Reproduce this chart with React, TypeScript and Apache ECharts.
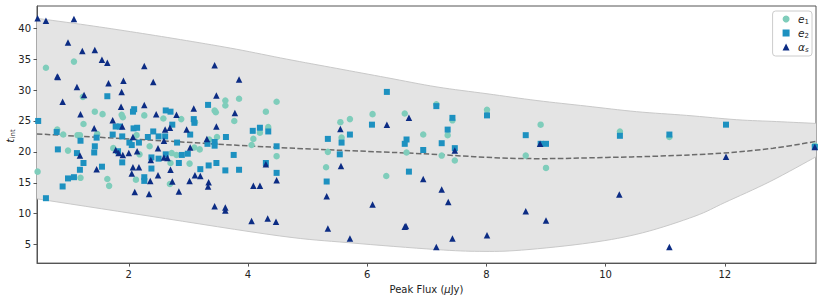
import React, { useEffect, useRef } from "react";
import * as echarts from "echarts";

// ---------- data ----------
const xTicks = [2, 4, 6, 8, 10, 12];
const yTicks = [5, 10, 15, 20, 25, 30, 35, 40];

const e1Points: [number, number][] = [
  [1.08, 34.6], [0.61, 33.6], [1.23, 28.9], [1.43, 26.5], [1.56, 26.1], [1.24, 24.5],
  [0.8, 23.6], [0.9, 22.8], [1.14, 22.7], [1.18, 22.7], [1.47, 22.9], [0.98, 20.2],
  [0.47, 16.8], [1.19, 15.8], [1.88, 26.0], [1.9, 25.6], [2.26, 25.9], [2.58, 25.4],
  [2.13, 22.7], [2.35, 20.9], [1.74, 20.6], [2.18, 19.6], [2.12, 15.5], [1.64, 15.6],
  [1.67, 14.5], [3.62, 28.3], [3.62, 27.5], [3.44, 26.7], [3.46, 26.4], [2.88, 25.3],
  [3.11, 24.8], [3.77, 25.0], [3.48, 22.4], [3.19, 20.4], [3.35, 22.0], [3.1, 20.7],
  [2.72, 19.8], [2.8, 19.5], [2.7, 18.2], [3.02, 18.1], [2.69, 14.8], [3.85, 28.6],
  [4.48, 28.1], [4.3, 26.5], [4.34, 24.0], [4.2, 23.1], [4.09, 22.1], [4.06, 21.1],
  [4.48, 19.3], [5.55, 24.8], [5.71, 25.3], [6.09, 26.1], [6.63, 26.2], [6.94, 22.8],
  [7.35, 22.7], [7.16, 27.7], [7.43, 25.1], [8.01, 26.8], [8.91, 24.4], [5.57, 22.3],
  [5.34, 20.0], [5.31, 17.5], [6.32, 16.1], [6.66, 19.9], [7.25, 19.4], [7.47, 18.6],
  [8.66, 19.4], [9.0, 17.4], [10.24, 23.3], [11.07, 22.4], [13.51, 21.0],
];

const e2Points: [number, number][] = [
  [0.48, 25.0], [1.64, 29.0], [0.79, 23.2], [1.46, 22.3], [1.19, 21.8], [1.43, 20.9],
  [1.42, 19.9], [0.81, 20.4], [1.13, 19.8], [1.24, 18.2], [1.18, 17.1], [1.55, 17.6],
  [1.08, 15.9], [0.98, 15.7], [0.89, 14.4], [0.61, 12.5], [2.09, 26.9], [2.07, 26.5],
  [2.62, 26.7], [1.78, 24.1], [1.85, 24.1], [2.08, 23.8], [2.14, 23.9], [1.73, 22.8],
  [1.89, 22.5], [2.41, 23.3], [2.5, 22.5], [2.61, 22.5], [2.32, 22.4], [2.01, 21.5],
  [2.05, 21.1], [2.17, 21.5], [1.82, 20.1], [1.89, 18.3], [2.38, 19.1], [2.5, 18.9],
  [2.62, 19.6], [2.38, 17.3], [2.26, 15.9], [2.26, 15.3], [2.7, 26.5], [3.33, 27.6],
  [3.09, 25.3], [3.1, 24.7], [2.73, 24.4], [3.03, 22.8], [2.81, 21.5], [3.32, 21.3],
  [3.44, 21.6], [3.44, 21.0], [3.63, 22.4], [2.89, 19.5], [2.99, 19.7], [2.84, 18.2],
  [3.2, 17.2], [3.34, 17.8], [3.47, 18.2], [3.62, 17.0], [3.76, 19.5], [4.08, 23.4],
  [4.2, 23.9], [4.34, 23.3], [4.48, 20.9], [4.3, 18.2], [3.85, 17.1], [4.48, 16.6],
  [6.33, 29.7], [6.08, 24.4], [7.16, 27.4], [7.43, 25.5], [7.35, 23.6], [8.01, 25.9],
  [5.71, 22.8], [5.57, 21.5], [5.34, 22.1], [6.66, 22.0], [6.63, 21.3], [6.94, 20.3],
  [7.25, 21.4], [7.47, 20.6], [8.66, 22.7], [9.0, 21.3], [5.54, 19.6], [5.32, 15.2],
  [6.7, 16.8], [10.24, 22.6], [11.07, 22.8], [12.02, 24.4], [13.51, 20.8], [8.91, 21.3],
];

const alphaPoints: [number, number][] = [
  [0.47, 41.6], [0.61, 41.2], [1.08, 41.5], [0.98, 37.7], [1.22, 36.3], [1.43, 36.5],
  [1.55, 34.9], [1.64, 34.4], [0.8, 32.2], [0.81, 32.1], [2.26, 33.9], [1.13, 30.5],
  [1.25, 29.2], [1.66, 31.1], [1.91, 31.5], [2.41, 31.3], [3.44, 34.0], [3.85, 31.7],
  [0.89, 28.1], [1.19, 26.1], [1.42, 23.8], [1.18, 19.4], [1.46, 17.2], [1.88, 29.7],
  [1.87, 27.3], [2.26, 27.6], [2.46, 26.1], [1.73, 25.1], [1.89, 24.1], [2.61, 23.6],
  [2.07, 22.4], [2.59, 21.8], [2.49, 20.6], [1.78, 20.3], [1.83, 19.8], [1.9, 19.5],
  [2.0, 19.8], [2.14, 20.1], [2.59, 19.1], [2.65, 19.0], [2.37, 18.7], [2.07, 17.5],
  [2.17, 17.5], [2.05, 16.5], [2.49, 16.2], [2.36, 15.3], [2.1, 13.5], [2.34, 13.2],
  [3.47, 29.1], [3.09, 27.0], [2.8, 26.0], [2.69, 23.9], [3.47, 24.1], [2.97, 23.6],
  [3.31, 22.1], [3.03, 20.7], [2.7, 17.1], [3.11, 16.2], [3.2, 16.1], [2.73, 15.2],
  [3.02, 15.3], [3.34, 15.1], [3.33, 14.4], [2.84, 13.6], [3.78, 26.3], [4.3, 18.0],
  [4.48, 15.4], [4.09, 14.5], [4.2, 14.5], [3.44, 11.2], [3.62, 11.0], [3.62, 10.5],
  [4.06, 8.8], [4.33, 9.2], [4.47, 8.7], [5.55, 23.7], [6.33, 24.4], [6.7, 25.5],
  [8.9, 21.3], [5.56, 17.7], [5.32, 12.8], [6.94, 15.6], [7.25, 13.9], [7.36, 11.9],
  [6.09, 11.5], [5.34, 7.6], [5.71, 6.0], [6.63, 7.9], [6.65, 8.0], [7.16, 4.6],
  [7.43, 6.0], [8.01, 6.5], [8.66, 10.4], [9.0, 8.9], [7.47, 20.2], [12.02, 19.2],
  [10.23, 13.1], [11.07, 4.6], [13.51, 20.8],
];

const bandUpper: [number, number][] = [
  [0.46, 41.6], [1.3, 40.5], [2.13, 39.3], [2.97, 38.0], [3.81, 36.6], [4.65, 35.0],
  [5.49, 33.5], [6.33, 32.0], [7.17, 30.5], [8.01, 29.4], [8.85, 28.3], [9.68, 27.4],
  [10.52, 26.5], [11.36, 25.9], [12.2, 25.2], [12.87, 24.9], [13.53, 24.6],
];
const bandLower: [number, number][] = [
  [0.46, 12.4], [2.35, 9.6], [4.53, 6.4], [5.69, 5.3], [7.15, 4.2], [7.89, 3.9],
  [8.59, 4.1], [9.75, 5.3], [10.62, 6.9], [11.5, 9.6], [12.0, 11.8], [12.76, 15.2],
  [13.53, 19.2],
];
const trendLine: [number, number][] = [
  [0.46, 22.9], [2.35, 21.9], [4.53, 20.7], [6.7, 19.8], [8.9, 18.9], [10.02, 19.1],
  [10.86, 19.3], [11.97, 19.8], [12.81, 20.6], [13.53, 21.7],
];

const FONT = "DejaVu Sans";

const legendNames: Record<string, string> = {
  e1: "{i|e}{s|1}",
  e2: "{i|e}{s|2}",
  as: "{i|α}{si|s}",
};

// Catmull-Rom smoothing of a pixel-space polyline (rendering only)
function smoothPixels(pts: number[][], steps = 8): number[][] {
  const out: number[][] = [];
  const n = pts.length;
  for (let i = 0; i < n - 1; i++) {
    const p0 = pts[Math.max(0, i - 1)];
    const p1 = pts[i];
    const p2 = pts[i + 1];
    const p3 = pts[Math.min(n - 1, i + 2)];
    for (let s = 0; s < steps; s++) {
      const t = s / steps;
      const t2 = t * t;
      const t3 = t2 * t;
      const f = (a: number, b: number, c: number, d: number) =>
        0.5 * (2 * b + (-a + c) * t + (2 * a - 5 * b + 4 * c - d) * t2 + (-a + 3 * b - 3 * c + d) * t3);
      out.push([f(p0[0], p1[0], p2[0], p3[0]), f(p0[1], p1[1], p2[1], p3[1])]);
    }
  }
  out.push(pts[n - 1]);
  return out;
}

export default function App() {
  const ref = useRef<HTMLDivElement>(null);

  useEffect(() => {
    if (!ref.current) return;
    const chart = echarts.init(ref.current, null, { renderer: "svg" });
    const axisColor = "#555";
    const textColor = "#222";

    const option: any = {
      animation: false,
      backgroundColor: "#fff",
      grid: {
        left: 37,
        right: 7,
        top: 6,
        bottom: 35,
        show: true,
        borderColor: axisColor,
        borderWidth: 1,
        backgroundColor: "transparent",
        containLabel: false,
      },
      xAxis: {
        type: "value",
        min: 0.46,
        max: 13.53,
        name: "Peak Flux ({it|μ}Jy)",
        nameLocation: "middle",
        nameGap: 19,
        nameTextStyle: {
          fontFamily: FONT,
          fontSize: 10,
          color: textColor,
          rich: { it: { fontFamily: FONT, fontSize: 10, fontStyle: "italic", color: textColor } },
        },
        axisLine: { show: true, lineStyle: { color: axisColor, width: 1 } },
        axisTick: { show: true, length: 3.5, customValues: xTicks, lineStyle: { color: axisColor } },
        axisLabel: {
          customValues: xTicks,
          margin: 6,
          fontFamily: FONT,
          fontSize: 10,
          color: textColor,
        },
        splitLine: { show: false },
      },
      yAxis: {
        type: "value",
        min: 2,
        max: 43.6,
        axisLine: { show: true, lineStyle: { color: axisColor, width: 1 } },
        axisTick: { show: true, length: 3.5, customValues: yTicks, lineStyle: { color: axisColor } },
        axisLabel: {
          customValues: yTicks,
          margin: 6,
          fontFamily: FONT,
          fontSize: 10,
          color: textColor,
        },
        splitLine: { show: false },
      },
      legend: {
        orient: "vertical",
        right: 11,
        top: 11,
        padding: [2, 3, 3, 10],
        itemWidth: 7,
        itemHeight: 7,
        itemGap: 2,
        borderColor: "#cccccc",
        borderWidth: 1,
        borderRadius: 3,
        backgroundColor: "rgba(255,255,255,0.8)",
        data: [
          { name: "e1", icon: "circle" },
          { name: "e2", icon: "rect" },
          { name: "as", icon: "triangle" },
        ],
        formatter: (n: string) => legendNames[n] || n,
        textStyle: {
          fontFamily: FONT,
          color: textColor,
          lineHeight: 12,
          rich: {
            i: { fontFamily: FONT, fontSize: 10.5, fontStyle: "italic", color: textColor, lineHeight: 12, verticalAlign: "middle", padding: [0, 0, 0, 3.5] },
            s: { fontFamily: FONT, fontSize: 7, color: textColor, lineHeight: 12, verticalAlign: "bottom" },
            si: { fontFamily: FONT, fontSize: 7, fontStyle: "italic", color: textColor, lineHeight: 12, verticalAlign: "bottom" },
          },
        },
      },
      graphic: [
        {
          type: "text",
          x: 10,
          y: 136,
          rotation: Math.PI / 2,
          style: {
            text: "{t|t}{s|int}",
            align: "center",
            verticalAlign: "middle",
            rich: {
              t: { fontFamily: FONT, fontSize: 10.5, fontStyle: "italic", fill: textColor, lineHeight: 12, verticalAlign: "middle" },
              s: { fontFamily: FONT, fontSize: 7, fill: textColor, lineHeight: 12, verticalAlign: "bottom" },
            },
          },
        },
      ],
      series: [
        {
          type: "custom",
          name: "band",
          silent: true,
          clip: true,
          z: 1,
          data: [[0.46, 2]],
          renderItem: (_params: any, api: any) => {
            const up = smoothPixels(bandUpper.map((p) => api.coord(p)));
            const lo = smoothPixels(bandLower.map((p) => api.coord(p)));
            const pts = up.concat(lo.slice().reverse());
            return {
              type: "group",
              children: [
                {
                  type: "polygon",
                  shape: { points: pts },
                  style: { fill: "#e4e4e4", stroke: "none" },
                },
                {
                  type: "polyline",
                  shape: { points: up },
                  style: { fill: "none", stroke: "#c9c9c9", lineWidth: 1 },
                },
                {
                  type: "polyline",
                  shape: { points: lo },
                  style: { fill: "none", stroke: "#c9c9c9", lineWidth: 1 },
                },
              ],
            };
          },
        },
        {
          type: "line",
          name: "trend",
          data: trendLine,
          symbol: "none",
          smooth: 0.4,
          silent: true,
          z: 2,
          lineStyle: { color: "#6b6b6b", width: 1.5, type: [5.5, 2.4] },
        },
        {
          type: "scatter",
          name: "e1",
          data: e1Points,
          symbol: "circle",
          symbolSize: 6.5,
          z: 3,
          itemStyle: { color: "#7fcdbb", opacity: 1 },
        },
        {
          type: "scatter",
          name: "e2",
          data: e2Points,
          symbol: "rect",
          symbolSize: 6,
          z: 4,
          itemStyle: { color: "#1d91c0", opacity: 1 },
        },
        {
          type: "scatter",
          name: "as",
          data: alphaPoints,
          symbol: "triangle",
          symbolSize: 6.5,
          z: 5,
          itemStyle: { color: "#0c2c84", opacity: 1 },
        },
      ],
    };
    chart.setOption(option);
    return () => chart.dispose();
  }, []);

  return (
    <div
      ref={ref}
      style={{ position: "fixed", left: 0, top: 0, width: 823, height: 299, background: "#fff" }}
    />
  );
}
